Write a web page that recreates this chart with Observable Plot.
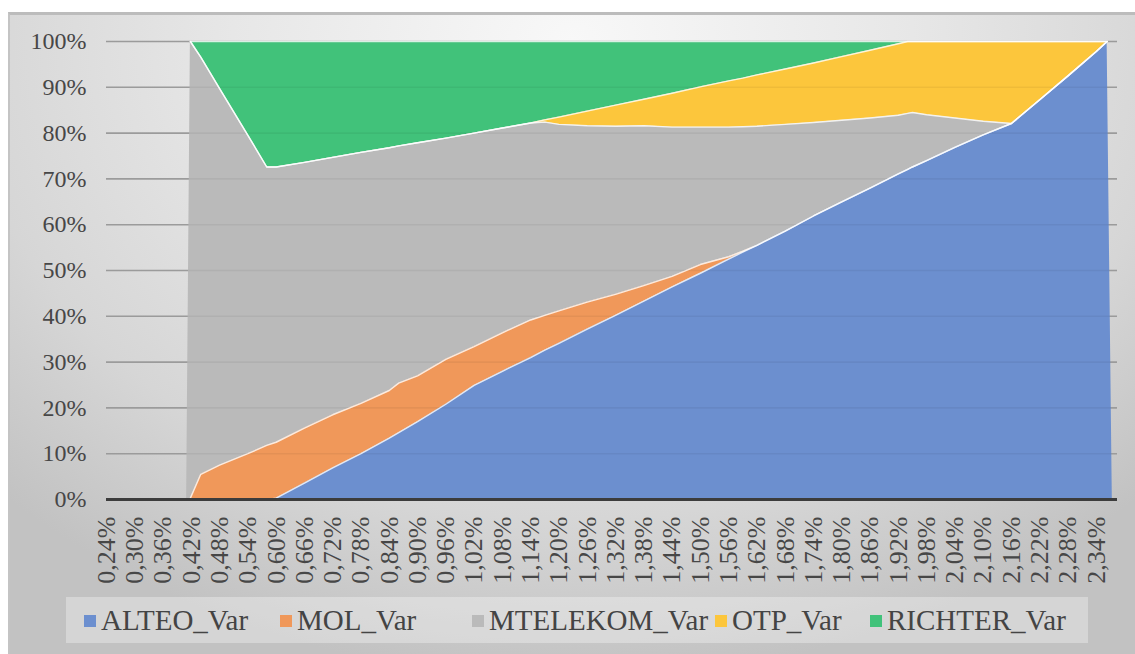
<!DOCTYPE html>
<html>
<head>
<meta charset="utf-8">
<script src="https://cdn.jsdelivr.net/npm/d3@7"></script>
<script src="https://cdn.jsdelivr.net/npm/@observablehq/plot@0.6"></script>
<style>
  html, body { margin: 0; padding: 0; background: #ffffff; }
  body { width: 1135px; height: 654px; position: relative; overflow: hidden; font-family: 'Liberation Serif', 'Times New Roman', Tinos, 'DejaVu Serif', serif; }
  #frame {
    position: absolute; left: 8px; top: 12px; width: 1127px; height: 642px;
    border-top: 3px solid #bcbcbc; border-left: 2px solid #c4c4c4; box-sizing: border-box;
    background: radial-gradient(ellipse 72% 100% at 50% 4%, #f8f8f8 0%, #e7e7e7 42%, #d6d6d6 75%, #c2c2c2 100%);
  }
  #chart { position: absolute; left: 0; top: 0; }
  #chart svg, #chart svg text { font-family: 'Liberation Serif', 'Times New Roman', Tinos, 'DejaVu Serif', serif !important; }
  #legend {
    position: absolute; left: 66px; top: 597px; width: 1022px; height: 46px;
    background: rgba(255,255,255,0.32);
  }
  .item { position: absolute; top: 0; height: 46px; display: flex; align-items: center; }
  .sw { width: 12px; height: 12px; margin-right: 5px; margin-top: 2px; }
  .lab { font-size: 29px; color: #444; white-space: nowrap; line-height: 46px; font-family: 'Liberation Serif', 'Times New Roman', Tinos, 'DejaVu Serif', serif; }
</style>
</head>
<body>
<div id="frame"></div>
<div id="chart"></div>
<div id="legend"></div>
<script>
const seriesNames = ["ALTEO_Var", "MOL_Var", "MTELEKOM_Var", "OTP_Var", "RICHTER_Var"];
const seriesColors = ["#6C8FCF", "#F0985A", "#BABABA", "#FCC63C", "#41C27A"];

const xs = [0.24, 0.30, 0.36, 0.41, 0.418, 0.44, 0.48, 0.54, 0.58,
  0.60, 0.66, 0.72, 0.78, 0.84, 0.86, 0.90, 0.96, 1.02, 1.08,
  1.14, 1.17, 1.20, 1.26, 1.32, 1.38, 1.44, 1.50, 1.56, 1.59,
  1.62, 1.68, 1.74, 1.80, 1.86, 1.92, 1.94, 1.95, 1.98, 2.04,
  2.10, 2.16, 2.22, 2.28, 2.34, 2.363, 2.374];

const alteo = [0, 0, 0, 0, 0, 0, 0, 0, 0,
  0.3, 3.6, 6.9, 10.0, 13.4, 14.6, 17.0, 20.8, 24.9, 28.0,
  31.0, 32.6, 34.1, 37.2, 40.2, 43.3, 46.4, 49.4, 52.5, 54.0,
  55.5, 58.6, 61.9, 65.0, 68.0, 71.1, 72.1, 72.6, 74.0, 76.9,
  79.6, 82.1, 87.3, 92.5, 97.8, 100, 0];

const mol = [0, 0, 0, 0, 0.3, 5.5, 7.5, 10.0, 11.8,
  12.2, 12.0, 11.6, 11.0, 10.4, 10.8, 10.0, 9.8, 8.5, 8.4,
  8.2, 7.6, 7.1, 5.9, 4.6, 3.4, 2.3, 1.9, 0.5, 0.2,
  0, 0, 0, 0, 0, 0, 0, 0, 0, 0,
  0, 0, 0, 0, 0, 0, 0];

const mtelekom = [0, 0, 0, 0, 99.7, 91.1, 82.2, 69.5, 60.8,
  60.1, 58.0, 56.2, 54.8, 53.0, 51.8, 50.9, 48.3, 46.6, 44.7,
  43.0, 42.2, 40.7, 38.5, 36.7, 34.9, 32.6, 30.0, 28.3, 27.2,
  26.0, 23.3, 20.4, 17.8, 15.3, 12.8, 12.2, 11.9, 10.0, 6.4,
  3.0, 0, 0, 0, 0, 0, 0];

const otp = [0, 0, 0, 0, 0, 0, 0, 0, 0,
  0, 0, 0, 0, 0, 0, 0, 0, 0, 0,
  0, 0.5, 1.6, 3.2, 4.6, 5.8, 7.4, 8.8, 10.1, 10.6,
  11.2, 12.1, 13.0, 13.9, 14.8, 15.6, 15.7, 15.5, 16.0, 16.7,
  17.4, 17.9, 12.7, 7.5, 2.2, 0, 0];

const richter = [0, 0, 0, 0, 0, 3.4, 10.3, 20.5, 27.4,
  27.4, 26.4, 25.3, 24.2, 23.2, 22.8, 22.1, 21.1, 20.0, 18.9,
  17.8, 17.1, 16.5, 15.2, 13.9, 12.6, 11.3, 9.9, 8.6, 8.0,
  7.3, 6.0, 4.7, 3.3, 1.9, 0.5, 0, 0, 0, 0,
  0, 0, 0, 0, 0, 0, 0];

const xTicks = [0.24, 0.30, 0.36, 0.42, 0.48, 0.54, 0.60, 0.66, 0.72, 0.78,
  0.84, 0.90, 0.96, 1.02, 1.08, 1.14, 1.20, 1.26, 1.32, 1.38,
  1.44, 1.50, 1.56, 1.62, 1.68, 1.74, 1.80, 1.86, 1.92, 1.98,
  2.04, 2.10, 2.16, 2.22, 2.28, 2.34];
const yTicks = [0, 10, 20, 30, 40, 50, 60, 70, 80, 90, 100];

const seriesValues = [alteo, mol, mtelekom, otp, richter];
const rows = [];
seriesNames.forEach((name, s) => {
  xs.forEach((x, i) => rows.push({x, series: name, value: seriesValues[s][i]}));
});
// boundary lines only where the stack is filled (no edge lines at the zero ends)
const edgeRows = rows.filter(d => d.x >= 0.418 && d.x <= 2.363);

const serif = "'Liberation Serif', 'Times New Roman', Tinos, 'DejaVu Serif', serif";
const W = 1135, H = 590;
const chart = Plot.plot({
  width: W,
  height: H,
  marginLeft: 106,
  marginRight: 18,
  marginTop: 41,
  marginBottom: H - 499,
  style: {background: "transparent", fontFamily: serif, fontSize: "24px", color: "#474747"},
  x: {type: "linear", domain: [0.24, 2.385]},
  y: {domain: [0, 100]},
  color: {domain: seriesNames, range: seriesColors},
  marks: [
    Plot.ruleY(yTicks.filter(d => d > 0), {stroke: "#a4a4a4", strokeWidth: 1.6}),
    Plot.areaY(rows, {x: "x", y: "value", z: "series", fill: "series", order: seriesNames, curve: "linear"}),
    Plot.ruleY(yTicks.filter(d => d > 0), {stroke: "#000", strokeOpacity: 0.05, strokeWidth: 1.6}),
    Plot.lineY(edgeRows, Plot.stackY2({x: "x", y: "value", z: "series", order: seriesNames,
      stroke: "#ffffff", strokeWidth: 1.4, strokeOpacity: 0.8, curve: "linear"})),
    Plot.ruleY([0], {stroke: "#3c3c3c", strokeWidth: 3}),
    Plot.axisY({ticks: yTicks, tickSize: 0, tickPadding: 20, tickFormat: d => d + "%", label: null, fontSize: 24}),
    Plot.axisX({ticks: xTicks, tickSize: 0, tickPadding: 17, tickRotate: -90,
      tickFormat: d => d.toFixed(2).replace(".", ",") + "%", label: null, fontSize: 26})
  ]
});
document.getElementById("chart").appendChild(chart);

const legendLeft = [84, 280, 472, 715, 870];
const legend = document.getElementById("legend");
seriesNames.forEach((name, i) => {
  const item = document.createElement("div");
  item.className = "item";
  item.style.left = (legendLeft[i] - 66) + "px";
  const sw = document.createElement("div");
  sw.className = "sw";
  sw.style.background = seriesColors[i];
  const lab = document.createElement("span");
  lab.className = "lab";
  lab.textContent = name;
  item.appendChild(sw);
  item.appendChild(lab);
  legend.appendChild(item);
});
</script>
</body>
</html>
